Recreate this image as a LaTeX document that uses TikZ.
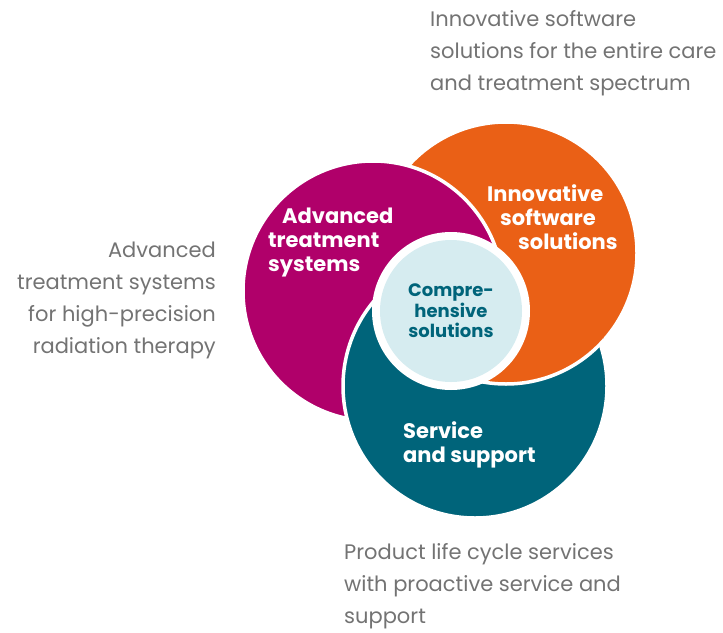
\documentclass[tikz,border=0pt]{standalone}
\usepackage{fontspec}
\setmainfont{Poppins}
\usetikzlibrary{positioning}
\definecolor{magentaA}{RGB}{176,0,106}
\definecolor{orangeA}{RGB}{234,96,22}
\definecolor{tealA}{RGB}{0,100,122}
\definecolor{paleA}{RGB}{214,236,240}
\definecolor{greyA}{RGB}{115,115,115}
\begin{document}
\begin{tikzpicture}[x=1pt, y=-1pt,
    disc/.style={draw=white, line width=3.5pt},
    head/.style={text=white, inner sep=0pt, font=\fontsize{21}{24}\selectfont\bfseries},
    core/.style={text=tealA, inner sep=0pt, align=center, font=\fontsize{18}{20.5}\selectfont\bfseries},
    note/.style={text=greyA, inner sep=0pt, font=\fontsize{21}{32}\selectfont}]
    \useasboundingbox (0,0) rectangle (723,632);

    % Centres of the circles
    \coordinate (cmag) at (373,291);
    \coordinate (cora) at (506,253);
    \coordinate (ctea) at (475,386);
    \coordinate (ccore) at (451,311);

    % Circles (orange under magenta, magenta under teal, teal under orange)
    \fill[orangeA, disc] (cora) circle[radius=131];
    \fill[magentaA, disc] (cmag) circle[radius=130];
    \fill[tealA, disc] (ctea) circle[radius=132];
    \begin{scope}
        \clip (ctea) circle[radius=137];
        \fill[orangeA, disc] (cora) circle[radius=131];
    \end{scope}

    % Centre circle
    \fill[white] (ccore) circle[radius=79];
    \fill[paleA] (ccore) circle[radius=71];

    % Circle labels
    \node[head, align=left, anchor=north west] (lmag) at (268,208) {\hspace*{14pt}Advanced\\treatment\\systems};
    \node[head, align=left, anchor=north west] (lora) at (487,184) {Innovative\\\hspace*{13pt}software\\\hspace*{31pt}solutions};
    \node[head, align=left, anchor=north west] (ltea) at (403,421) {Service\\and support};
    \node[core] (lcore) at (ccore) {Compre-\\hensive\\solutions};

    % Notes
    \node[note, align=left, anchor=north west] (nora) at (430,10) {Innovative software\\solutions for the entire care\\and treatment spectrum};
    \node[note, align=right, anchor=north east] (nmag) at (216,242) {Advanced\\treatment systems\\for high-precision\\radiation therapy};
    \node[note, align=left, anchor=north west] (ntea) at (344,543) {Product life cycle services\\with proactive service and\\support};
\end{tikzpicture}
\end{document}
